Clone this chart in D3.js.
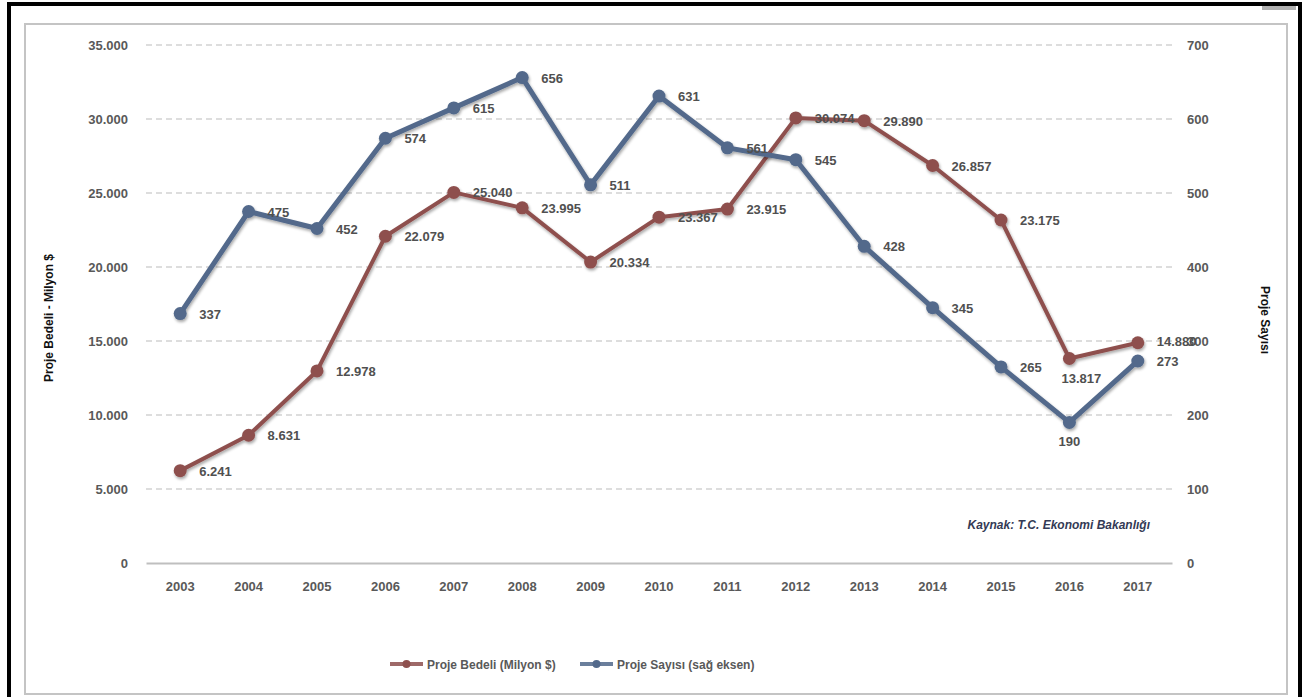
<!DOCTYPE html>
<html>
<head>
<meta charset="utf-8">
<script src="https://cdn.jsdelivr.net/npm/d3@7"></script>
<style>
  body { margin: 0; background: #fff; }
  svg { display: block; font-family: "Liberation Sans", "DejaVu Sans", sans-serif; }
</style>
</head>
<body>
<div id="chart"></div>
<script>
// ── data ──
const years   = ["2003","2004","2005","2006","2007","2008","2009","2010","2011","2012","2013","2014","2015","2016","2017"];
const bedeli  = [6241, 8631, 12978, 22079, 25040, 23995, 20334, 23367, 23915, 30074, 29890, 26857, 23175, 13817, 14880];
const sayisi  = [337, 475, 452, 574, 615, 656, 511, 631, 561, 545, 428, 345, 265, 190, 273];
const leftTicks  = [0, 5000, 10000, 15000, 20000, 25000, 30000, 35000];
const rightTicks = [0, 100, 200, 300, 400, 500, 600, 700];
const seriesNames = ["Proje Bedeli (Milyon $)", "Proje Sayısı (sağ eksen)"];

const W = 1306, H = 697;
const plot = { left: 146, right: 1172, top: 45, bottom: 563 };
const redC  = "#8e504e";
const blueC = "#52698b";
const textC = "#595959";

const fmt = (v) => d3.format(",")(v).replace(/,/g, ".");

const svg = d3.select("#chart").append("svg").attr("width", W).attr("height", H);

const defs = svg.append("defs");
const sh = defs.append("filter").attr("id", "shadow").attr("x", "-10%").attr("y", "-10%").attr("width", "120%").attr("height", "130%");
sh.append("feGaussianBlur").attr("in", "SourceAlpha").attr("stdDeviation", 1.6).attr("result", "b");
sh.append("feOffset").attr("dx", 1).attr("dy", 2).attr("result", "o");
sh.append("feComponentTransfer").append("feFuncA").attr("type", "linear").attr("slope", 0.35);
const shm = sh.append("feMerge");
shm.append("feMergeNode");
shm.append("feMergeNode").attr("in", "SourceGraphic");

// ── frames ──
svg.append("rect").attr("x", 9).attr("y", 4).attr("width", 1291).attr("height", 700)
  .attr("fill", "none").attr("stroke", "#000").attr("stroke-width", 4);
svg.append("rect").attr("x", 1262).attr("y", 6).attr("width", 34).attr("height", 4).attr("fill", "#b0b0b0");
svg.append("rect").attr("x", 25).attr("y", 24).attr("width", 1262).attr("height", 670)
  .attr("fill", "none").attr("stroke", "#c4c4c4").attr("stroke-width", 2);

// ── scales ──
const x = d3.scaleBand().domain(years).range([plot.left, plot.right]);
const yL = d3.scaleLinear().domain([0, 35000]).range([plot.bottom, plot.top]);
const yR = d3.scaleLinear().domain([0, 700]).range([plot.bottom, plot.top]);
const cx = (d) => x(d) + x.bandwidth() / 2;

// gridlines
svg.append("g").selectAll("line").data(leftTicks.filter((t) => t > 0)).join("line")
  .attr("x1", plot.left).attr("x2", plot.right)
  .attr("y1", (d) => yL(d)).attr("y2", (d) => yL(d))
  .attr("stroke", "#bcbcbc").attr("stroke-width", 1.2).attr("stroke-dasharray", "6 4");

// axes
const axL = svg.append("g").attr("transform", `translate(${plot.left},0)`)
  .call(d3.axisLeft(yL).tickValues(leftTicks).tickFormat(fmt).tickSize(0).tickPadding(18));
axL.select(".domain").remove();
const axR = svg.append("g").attr("transform", `translate(${plot.right},0)`)
  .call(d3.axisRight(yR).tickValues(rightTicks).tickSize(0).tickPadding(15));
axR.select(".domain").remove();
const axB = svg.append("g").attr("transform", `translate(0,${plot.bottom})`)
  .call(d3.axisBottom(x).tickSize(0).tickPadding(19));
axB.select(".domain").attr("stroke", "#bfbfbf").attr("stroke-width", 2);
svg.selectAll(".tick text").attr("font-size", 13).attr("font-weight", "bold").attr("fill", textC)
  .attr("font-family", "'Liberation Sans', sans-serif");

// axis titles
svg.append("text").attr("transform", "translate(53,318) rotate(-90)")
  .attr("text-anchor", "middle").attr("font-size", 12).attr("font-weight", "bold").attr("fill", "#111")
  .text("Proje  Bedeli - Milyon $");
svg.append("text").attr("transform", "translate(1261,320) rotate(90)")
  .attr("text-anchor", "middle").attr("font-size", 12).attr("font-weight", "bold").attr("fill", "#111")
  .text("Proje  Sayısı");

// source
svg.append("text").attr("x", 1150).attr("y", 529).attr("text-anchor", "end")
  .attr("font-size", 12).attr("font-weight", "bold").attr("font-style", "italic").attr("fill", "#333a55")
  .text("Kaynak: T.C. Ekonomi Bakanlığı");

// ── series ──
const series = [
  { values: bedeli, y: yL, color: redC, width: 4, label: fmt },
  { values: sayisi, y: yR, color: blueC, width: 5, label: (v) => String(v) }
];

series.forEach((s) => {
  const g = svg.append("g").attr("filter", "url(#shadow)");
  g.append("path").datum(s.values)
    .attr("fill", "none").attr("stroke", s.color).attr("stroke-width", s.width).attr("stroke-linejoin", "round")
    .attr("d", d3.line().x((d, i) => cx(years[i])).y((d) => s.y(d)));
  g.selectAll("circle").data(s.values).join("circle")
    .attr("cx", (d, i) => cx(years[i])).attr("cy", (d) => s.y(d)).attr("r", 6.5)
    .attr("fill", s.color);
});

// data labels: right of the point, except the 2016 pair which sit below
const labelAt = (si, i, d) => {
  const s = series[si];
  const px = cx(years[i]), py = s.y(d);
  if (si === 1 && i === 13) return { x: px, y: py + 24, a: "middle" };
  if (si === 0 && i === 13) return { x: px + 12, y: py + 24, a: "middle" };
  if (si === 0 && i === 14) return { x: px + 19, y: py + 3, a: "start" };
  return { x: px + 19, y: py + 5, a: "start" };
};
series.forEach((s, si) => {
  svg.append("g").selectAll("text").data(s.values).join("text")
    .each(function (d, i) {
      const p = labelAt(si, i, d);
      d3.select(this).attr("x", p.x).attr("y", p.y).attr("text-anchor", p.a);
    })
    .attr("font-size", 13).attr("font-weight", "bold").attr("fill", "#505050")
    .text((d) => s.label(d));
});

// ── legend ──
const legend = svg.append("g").attr("transform", "translate(0,664)");
const legendX = [390, 580];
seriesNames.forEach((name, i) => {
  const g = legend.append("g").attr("transform", `translate(${legendX[i]},0)`);
  g.append("line").attr("x1", 0).attr("x2", 33).attr("y1", 0).attr("y2", 0)
    .attr("stroke", series[i].color).attr("stroke-width", 4).attr("opacity", 0.85);
  g.append("circle").attr("cx", 16.5).attr("cy", 0).attr("r", 4).attr("fill", series[i].color);
  g.append("text").attr("x", 37).attr("y", 4.5).attr("font-size", 12).attr("font-weight", "bold")
    .attr("fill", textC).text(name);
});
</script>
</body>
</html>
